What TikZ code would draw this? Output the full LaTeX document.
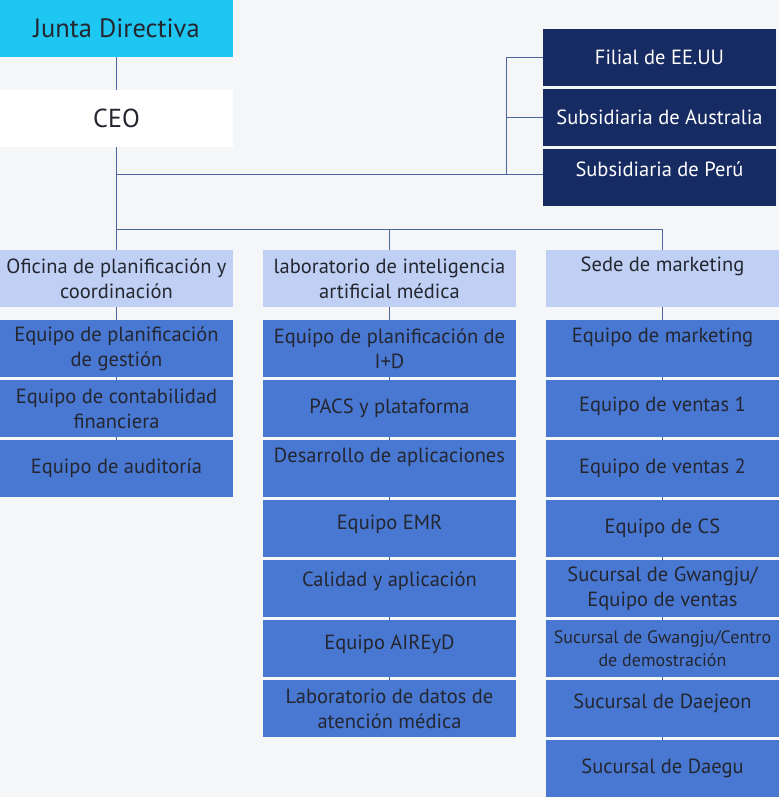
\documentclass[tikz,border=0pt]{standalone}
\usepackage{fontspec}
\setmainfont{PT Sans}
\usetikzlibrary{positioning}
\definecolor{pagebg}{RGB}{245,246,247}
\definecolor{boardcyan}{RGB}{30,198,242}
\definecolor{navy}{RGB}{23,43,99}
\definecolor{headblue}{RGB}{192,208,245}
\definecolor{teamblue}{RGB}{73,120,210}
\definecolor{inkgray}{RGB}{36,38,48}
\definecolor{linkblue}{RGB}{78,102,160}

\begin{document}
\begin{tikzpicture}[x=1pt, y=-1pt,
    conn/.style={draw=linkblue, line width=1pt},
    box/.style={rectangle, inner sep=0pt, minimum width=233pt, minimum height=57pt,
        align=center, text=inkgray, font=\fontsize{20.5}{25}\selectfont},
    wide/.style={minimum width=253pt},
    head/.style={box, fill=headblue},
    team/.style={box, fill=teamblue},
    subs/.style={box, fill=navy, text=white},
    lift/.style={text height=15pt, text depth=#1}]
    \fill[pagebg] (0,0) rectangle (779,797);

    % top of the chart
    \node[box, fill=boardcyan, font=\fontsize{26.5}{30}\selectfont] (junta) at (116.5,28.5) {Junta Directiva};
    \node[box, fill=white, font=\fontsize{26}{30}\selectfont] (ceo) at (116.5,118.5) {CEO};

    % subsidiaries
    \node[subs] (usa) at (659.5,57.5) {Filial de EE.UU};
    \node[subs] (aus) at (659.5,117.5) {Subsidiaria de Australia};
    \node[subs, lift=18pt] (peru) at (659.5,177.5) {Subsidiaria de Perú};

    % planning office
    \node[head] (ofi) at (116.5,278.5) {Oficina de planificación y\\coordinación};
    \node[team] (gest) at (116.5,348.5) {Equipo de planificación\\de gestión};
    \node[team] (fin) at (116.5,408.5) {Equipo de contabilidad\\financiera};
    \node[team] (aud) at (116.5,468.5) {Equipo de auditoría};

    % AI lab
    \node[head, wide] (lab) at (389.5,278.5) {laboratorio de inteligencia\\artificial médica};
    \node[team, wide] (idp) at (389.5,348.5) {Equipo de planificación de\\I+D};
    \node[team, wide] (pacs) at (389.5,408.5) {PACS y plataforma};
    \node[team, wide, lift=28pt] (apps) at (389.5,468.5) {Desarrollo de aplicaciones};
    \node[team, wide, lift=14pt] (emr) at (389.5,528.5) {Equipo EMR};
    \node[team, wide, lift=20pt] (qa) at (389.5,588.5) {Calidad y aplicación};
    \node[team, wide, lift=14pt] (aird) at (389.5,648.5) {Equipo AIREyD};
    \node[team, wide] (datos) at (389.5,708.5) {Laboratorio de datos de\\atención médica};

    % marketing
    \node[head, lift=30pt] (mkt) at (662.5,278.5) {Sede de marketing};
    \node[team, lift=28pt] (mkteq) at (662.5,348.5) {Equipo de marketing};
    \node[team, lift=10pt] (ven1) at (662.5,408.5) {Equipo de ventas 1};
    \node[team] (ven2) at (662.5,468.5) {Equipo de ventas 2};
    \node[team] (cs) at (662.5,528.5) {Equipo de CS};
    \node[team] (gjv) at (662.5,588.5) {Sucursal de Gwangju/\\Equipo de ventas};
    \node[team, font=\fontsize{18}{23}\selectfont] (gjc) at (662.5,648.5) {Sucursal de Gwangju/Centro\\de demostración};
    \node[team, lift=16pt] (dj) at (662.5,708.5) {Sucursal de Daejeon};
    \node[team] (dg) at (662.5,768.5) {Sucursal de Daegu};

    % connectors
    \coordinate (hubsub) at (116.5,174);
    \coordinate (hubdep) at (116.5,229);
    \coordinate (brk) at (506,174);
    \draw[conn] (junta) -- (ceo);
    \draw[conn] (ceo) -- (ofi);
    \draw[conn] (hubsub) -- (hubsub -| peru.west);
    \draw[conn] (usa.west) -| (brk);
    \draw[conn] (aus.west) -- (aus.west -| brk);
    \draw[conn] (hubdep) -| (mkt);
    \draw[conn] (lab |- hubdep) -- (lab);
    \foreach \a/\b in {ofi/gest, gest/fin, fin/aud,
        lab/idp, idp/pacs, pacs/apps, apps/emr, emr/qa, qa/aird, aird/datos,
        mkt/mkteq, mkteq/ven1, ven1/ven2, ven2/cs, cs/gjv, gjv/gjc, gjc/dj, dj/dg}
        \draw[conn] (\a) -- (\b);
\end{tikzpicture}
\end{document}
